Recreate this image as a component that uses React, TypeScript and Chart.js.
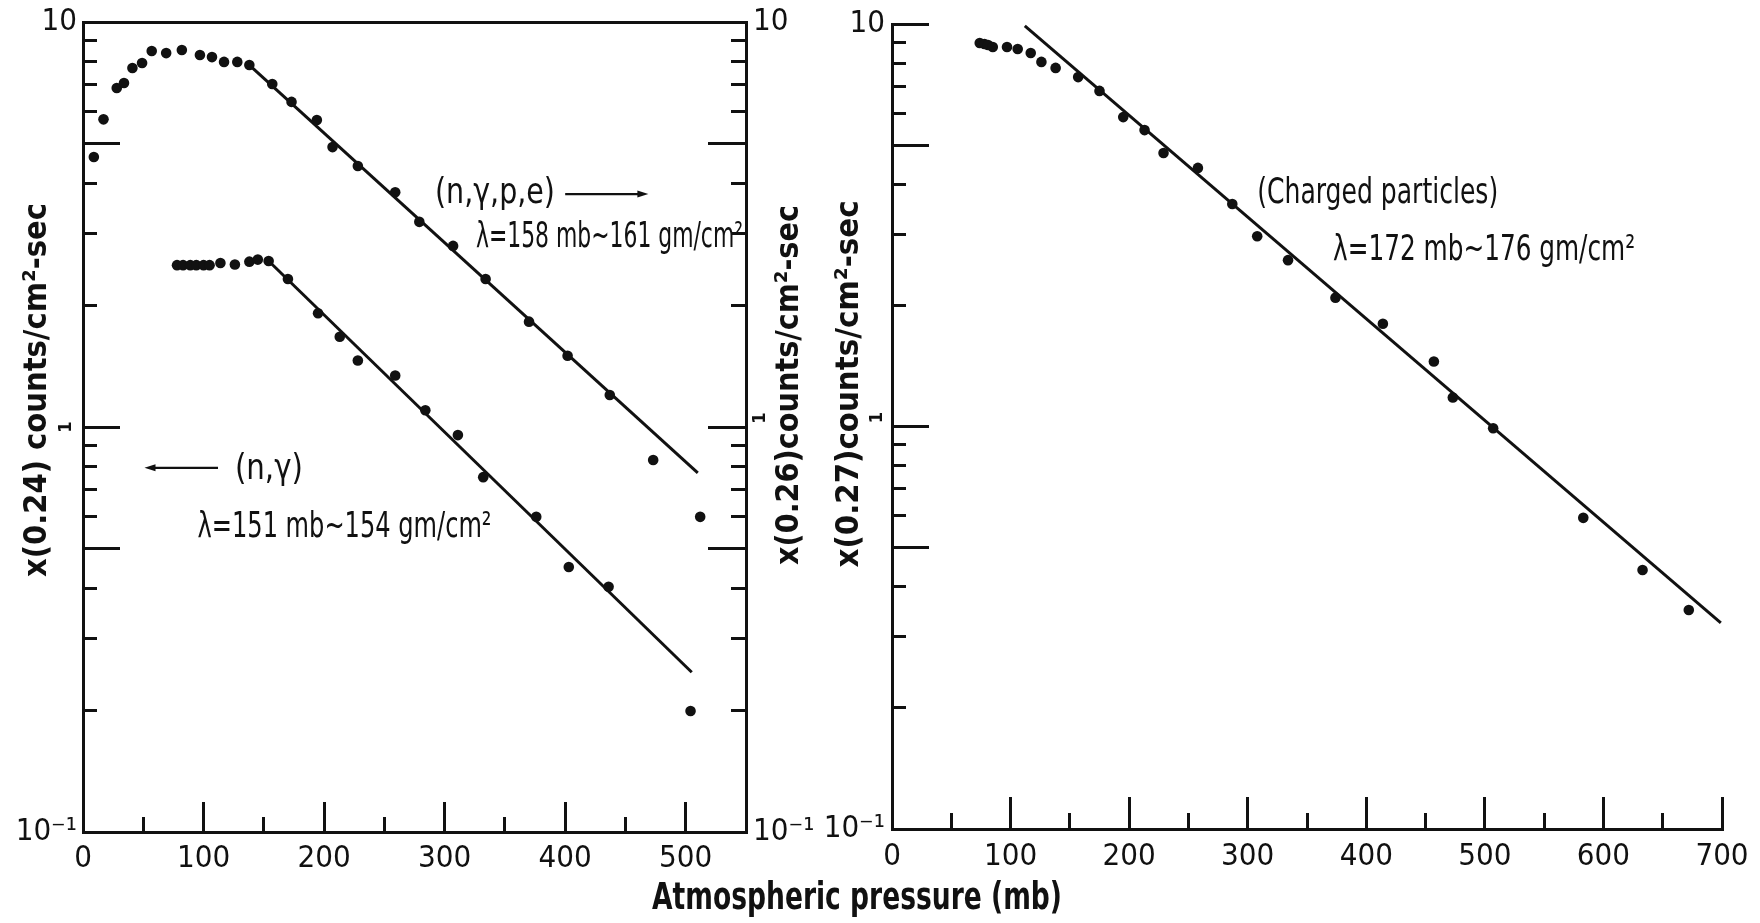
import React, { useEffect, useRef } from 'react';
import { Chart, registerables } from 'chart.js';

Chart.register(...registerables);

// ---------------- data ----------------
// Left panel, (n,γ,p,e): read on the right-hand scale x(0.26)
const nGpePressure = [9, 17, 28, 34, 41, 49, 57, 69, 82, 97, 107, 117, 128, 138, 157, 173, 194, 207, 228, 259, 279, 307, 334, 370, 402, 437, 473, 512];
const nGpeRate = [4.64, 5.75, 6.87, 7.07, 7.7, 7.92, 8.48, 8.38, 8.53, 8.29, 8.19, 7.97, 7.97, 7.83, 7.03, 6.35, 5.73, 4.91, 4.41, 3.8, 3.21, 2.8, 2.32, 1.82, 1.5, 1.2, 0.829, 0.6];
const nGpeFitPressure = [138, 510];
const nGpeFitRate = [7.83, 0.77];

// Left panel, (n,γ): read on the left-hand scale x(0.24)
const nGPressure = [78, 83, 89, 94, 100, 105, 114, 126, 138, 145, 154, 170, 195, 213, 228, 259, 284, 311, 332, 376, 403, 436, 504];
const nGRate = [2.51, 2.51, 2.51, 2.51, 2.51, 2.51, 2.54, 2.52, 2.56, 2.59, 2.57, 2.32, 1.91, 1.67, 1.46, 1.34, 1.1, 0.955, 0.752, 0.6, 0.451, 0.403, 0.199];
const nGFitPressure = [154, 505];
const nGFitRate = [2.57, 0.248];

// Right panel, charged particles: x(0.27)
const chargedPressure = [74, 78, 81, 85, 97, 106, 117, 126, 138, 157, 175, 195, 213, 229, 258, 287, 308, 334, 374, 414, 457, 473, 507, 583, 633, 672];
const chargedRate = [8.97, 8.92, 8.87, 8.77, 8.77, 8.67, 8.47, 8.05, 7.78, 7.38, 6.82, 5.87, 5.45, 4.78, 4.39, 3.57, 2.97, 2.59, 2.09, 1.8, 1.45, 1.18, 0.99, 0.593, 0.44, 0.35];
const chargedFitPressure = [112, 699];
const chargedFitRate = [9.89, 0.325];

// ticks
const leftPressureTicks = [0, 100, 200, 300, 400, 500];
const leftPressureMinorTicks = [50, 150, 250, 350, 450];
const rightPressureTicks = [0, 100, 200, 300, 400, 500, 600, 700];
const rightPressureMinorTicks = [50, 150, 250, 350, 450, 550, 650];
const rateMinorTicks = [0.1, 0.2, 0.3, 0.4, 0.5, 0.6, 0.7, 0.8, 0.9, 1, 2, 3, 4, 5, 6, 7, 8, 9, 10];
const rateMajorTicks = [0.5, 1, 5, 10];

// ---------------- styling helpers ----------------
const INK = '#111';
const NARROW = "'Liberation Sans Narrow', 'DejaVu Sans Condensed', 'Roboto', sans-serif";
const NOTE_FONT = `36px ${NARROW}`;
const TITLE_FONT = `bold 32px ${NARROW}`;
const XTITLE_FONT = `bold 37px ${NARROW}`;

type Pt = { x: number; y: number };
const zip = (xs: number[], ys: number[]): Pt[] => xs.map((x, i) => ({ x, y: ys[i] }));

const noPad = (s: any) => {
  s.paddingTop = 0;
  s.paddingBottom = 0;
  s.paddingLeft = 0;
  s.paddingRight = 0;
};
const fixWidth = (w: number) => (s: any) => { s.width = w; noPad(s); };
const fixHeight = (h: number) => (s: any) => { s.height = h; noPad(s); };
const useTicks = (values: number[]) => (s: any) => { s.ticks = values.map((value) => ({ value })); };

const rateLabel = (v: number) => (v === 10 ? '10' : v === 0.1 ? '10\u207B\u00B9' : '');
const oneLabel = (v: number) => (v === 1 ? '1' : '');

function axisGrid(tickLength: number) {
  return { display: true, drawOnChartArea: false, drawTicks: true, tickLength, color: INK, lineWidth: 3 };
}

function pressureAxis(max: number, values: number[], tickLength: number, height: number, weight: number, labelled: boolean, padding: number) {
  return {
    type: 'linear', axis: 'x', position: 'bottom', min: 0, max, bounds: 'data', weight,
    afterBuildTicks: useTicks(values),
    afterFit: fixHeight(height),
    grid: axisGrid(tickLength),
    border: { display: labelled, color: INK, width: 3 },
    ticks: labelled
      ? { display: true, autoSkip: false, maxRotation: 0, color: INK, font: { family: NARROW, size: 31 }, padding, callback: (v: number) => String(v) }
      : { display: false },
  };
}

function rateAxis(position: 'left' | 'right', width: number, weight: number, tickLength: number, padding: number) {
  return {
    type: 'logarithmic', axis: 'y', position, min: 0.1, max: 10, bounds: 'data', weight,
    afterBuildTicks: useTicks(rateMinorTicks),
    afterFit: fixWidth(width),
    grid: axisGrid(tickLength),
    border: { display: true, color: INK, width: 3 },
    ticks: { display: true, autoSkip: false, color: INK, font: { family: NARROW, size: 31 }, padding, callback: rateLabel },
  };
}

// long ticks at 0.5, 1, 5, 10 and the turned "1" label written beside the axis
function rateMajorAxis(position: 'left' | 'right', tickLength: number, padding: number, labelOffset: number) {
  return {
    type: 'logarithmic', axis: 'y', position, min: 0.1, max: 10, bounds: 'data', weight: 0,
    afterBuildTicks: useTicks(rateMajorTicks),
    afterFit: fixWidth(0),
    grid: axisGrid(tickLength),
    border: { display: false },
    ticks: {
      display: true, autoSkip: false, mirror: true, color: INK, font: { family: NARROW, size: 18, weight: 'bold' },
      minRotation: 90, maxRotation: 90, crossAlign: 'center', padding, labelOffset, callback: oneLabel,
    },
  };
}

const dots = (label: string, xs: number[], ys: number[], xAxisID: string, yAxisID: string) => ({
  label, data: zip(xs, ys), xAxisID, yAxisID, showLine: false,
  pointRadius: 5.3, pointHoverRadius: 5.3, pointBackgroundColor: INK, pointBorderColor: INK, pointBorderWidth: 0,
});
const fitLine = (label: string, xs: number[], ys: number[], xAxisID: string, yAxisID: string) => ({
  label, data: zip(xs, ys), xAxisID, yAxisID, showLine: true,
  pointRadius: 0, borderColor: INK, borderWidth: 3, fill: false, tension: 0,
});

function fitted(ctx: CanvasRenderingContext2D, text: string, x: number, y: number, font: string, width: number, align: CanvasTextAlign, rotate = 0) {
  ctx.save();
  ctx.font = font;
  const w = ctx.measureText(text).width || 1;
  ctx.translate(x, y);
  if (rotate) ctx.rotate(rotate);
  ctx.scale(width / w, 1);
  ctx.textAlign = align;
  ctx.textBaseline = 'middle';
  ctx.fillStyle = INK;
  ctx.fillText(text, 0, 0);
  ctx.restore();
}

function arrow(ctx: CanvasRenderingContext2D, x1: number, x2: number, y: number) {
  const dir = Math.sign(x2 - x1) || 1;
  ctx.save();
  ctx.strokeStyle = INK;
  ctx.fillStyle = INK;
  ctx.lineWidth = 2.2;
  ctx.beginPath();
  ctx.moveTo(x1, y);
  ctx.lineTo(x2 - dir * 8, y);
  ctx.stroke();
  ctx.beginPath();
  ctx.moveTo(x2, y);
  ctx.lineTo(x2 - dir * 11, y - 3.5);
  ctx.lineTo(x2 - dir * 11, y + 3.5);
  ctx.closePath();
  ctx.fill();
  ctx.restore();
}

const leftNotes = {
  id: 'leftNotes',
  afterDraw(chart: any) {
    const { ctx, chartArea: a, scales } = chart;
    const X = (v: number) => scales.xA.getPixelForValue(v);
    const Y = (v: number) => scales.yA.getPixelForValue(v);
    fitted(ctx, '(n,\u03B3,p,e)', X(292), Y(3.76), NOTE_FONT, 120, 'left');
    arrow(ctx, X(400), X(469), Y(3.76));
    fitted(ctx, '\u03BB=158 mb~161 gm/cm\u00B2', X(326), Y(2.93), NOTE_FONT, 267, 'left');
    arrow(ctx, X(112), X(51), Y(0.793));
    fitted(ctx, '(n,\u03B3)', X(126), Y(0.783), NOTE_FONT, 68, 'left');
    fitted(ctx, '\u03BB=151 mb~154 gm/cm\u00B2', X(95), Y(0.564), NOTE_FONT, 294, 'left');
    fitted(ctx, 'x(0.24) counts/cm\u00B2-sec', a.left - 45, a.top + 368, TITLE_FONT, 374, 'center', -Math.PI / 2);
    fitted(ctx, 'x(0.26)counts/cm\u00B2-sec', a.right + 44, a.top + 363, TITLE_FONT, 360, 'center', -Math.PI / 2);
  },
};

const rightNotes = {
  id: 'rightNotes',
  afterDraw(chart: any) {
    const { ctx, chartArea: a, scales } = chart;
    const X = (v: number) => scales.xC.getPixelForValue(v);
    const Y = (v: number) => scales.yC.getPixelForValue(v);
    fitted(ctx, '(Charged particles)', X(308), Y(3.78), NOTE_FONT, 241, 'left');
    fitted(ctx, '\u03BB=172 mb~176 gm/cm\u00B2', X(372), Y(2.74), NOTE_FONT, 302, 'left');
    fitted(ctx, 'x(0.27)counts/cm\u00B2-sec', a.left - 42, a.top + 360, TITLE_FONT, 367, 'center', -Math.PI / 2);
    fitted(ctx, 'Atmospheric pressure (mb)', a.left - 35, a.bottom + 70, XTITLE_FONT, 410, 'center');
  },
};

const common = {
  responsive: false,
  animation: false as const,
  devicePixelRatio: 1,
  events: [] as any[],
  plugins: { legend: { display: false }, tooltip: { enabled: false }, title: { display: false } },
};

function leftConfig(): any {
  return {
    type: 'scatter',
    data: {
      datasets: [
        dots('(n,\u03B3,p,e)', nGpePressure, nGpeRate, 'xA', 'yB'),
        fitLine('(n,\u03B3,p,e) fit', nGpeFitPressure, nGpeFitRate, 'xA', 'yB'),
        dots('(n,\u03B3)', nGPressure, nGRate, 'xA', 'yA'),
        fitLine('(n,\u03B3) fit', nGFitPressure, nGFitRate, 'xA', 'yA'),
      ],
    },
    options: {
      ...common,
      layout: { padding: { left: 0, top: 0, right: 934, bottom: 0 } },
      scales: {
        xTop: {
          type: 'linear', axis: 'x', position: 'top', min: 0, max: 550, bounds: 'data', weight: 0,
          afterFit: fixHeight(22),
          grid: { display: true, drawOnChartArea: false, drawTicks: false, color: INK, lineWidth: 3 },
          border: { display: true, color: INK, width: 3 },
          ticks: { display: false },
        },
        xAminor: pressureAxis(550, leftPressureMinorTicks, -15, 0, 0, false, 0),
        xA: pressureAxis(550, leftPressureTicks, -30, 91, 1, true, 38),
        yAmajor: rateMajorAxis('left', -37, -22, 0),
        yA: rateAxis('left', 83, 1, -14, 20),
        yBmajor: rateMajorAxis('right', -38, 20, -9),
        yB: rateAxis('right', 80, 1, -15, 22),
      },
    },
    plugins: [leftNotes],
  };
}

function rightConfig(): any {
  return {
    type: 'scatter',
    data: {
      datasets: [
        dots('Charged particles', chargedPressure, chargedRate, 'xC', 'yC'),
        fitLine('Charged particles fit', chargedFitPressure, chargedFitRate, 'xC', 'yC'),
      ],
    },
    options: {
      ...common,
      layout: { padding: { left: 809, top: 24, right: 38, bottom: 0 } },
      scales: {
        xCminor: pressureAxis(700, rightPressureMinorTicks, -16, 0, 0, false, 0),
        xC: pressureAxis(700, rightPressureTicks, -32, 94, 1, true, 41),
        yCmajor: rateMajorAxis('left', -37, -20, -9),
        yC: rateAxis('left', 83, 1, -14, 21),
      },
    },
    plugins: [rightNotes],
  };
}

export default function App() {
  const leftRef = useRef<HTMLCanvasElement>(null);
  const rightRef = useRef<HTMLCanvasElement>(null);
  useEffect(() => {
    const b = new Chart(rightRef.current as HTMLCanvasElement, rightConfig());
    const a = new Chart(leftRef.current as HTMLCanvasElement, leftConfig());
    return () => {
      a.destroy();
      b.destroy();
    };
  }, []);
  return (
    <div style={{ position: 'absolute', left: 0, top: 0, width: 1760, height: 923, background: '#fff', overflow: 'hidden' }}>
      <canvas ref={rightRef} width={1760} height={923} style={{ position: 'absolute', left: 0, top: 0 }} />
      <canvas ref={leftRef} width={1760} height={923} style={{ position: 'absolute', left: 0, top: 0 }} />
    </div>
  );
}
